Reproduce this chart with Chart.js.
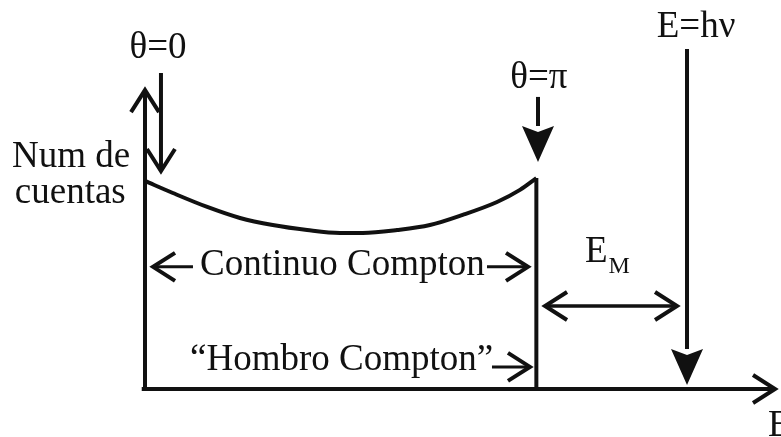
<!DOCTYPE html>
<html>
<head>
<meta charset="utf-8">
<script src="https://cdn.jsdelivr.net/npm/chart.js@4.4.0/dist/chart.umd.min.js"></script>
<style>
  body { margin: 0; background: #fff; }
  #wrap { width: 781px; height: 437px; }
</style>
</head>
<body>
<div id="wrap"><canvas id="comptonChart"></canvas></div>
<script>
// Compton continuum (energy in keV, relative counts)
const continuumEnergy = [0, 34, 76, 116, 156, 198, 238, 266, 308, 348, 388, 430, 458, 478];
const continuumCounts = [100, 94.2, 87.5, 82.2, 78.8, 76.4, 75.0, 75.0, 76.4, 78.8, 83.7, 89.9, 95.7, 101.4];
const comptonEdge = 478;   // keV, theta = pi
const photopeak = 662;     // keV, E = h nu

const INK = '#111';
const FONT = '"Liberation Serif", "Times New Roman", serif';

// Arrows in data coordinates: [x1, y1] -> [x2, y2]
const arrows = [
    { from: [0, -1], to: [0, 143.7], head: 'open' },                  // counts axis
    { from: [-4, 0], to: [769.5, 0], head: 'open' },                  // energy axis
    { from: [19.5, 151.9], to: [19.5, 104.8], head: 'open' },         // theta = 0
    { from: [480, 140.4], to: [480, 109.1], head: 'filled' },         // theta = pi
    { from: [photopeak, 163.5], to: [photopeak, 1.9], head: 'filled' },
    { from: [58.6, 58.7], to: [9.8, 58.7], head: 'open', width: 3 },
    { from: [417.7, 58.7], to: [467.8, 58.7], head: 'open', width: 3 },
    { from: [423.8, 10.6], to: [470.2, 10.6], head: 'open', width: 3 },
    { from: [488.6, 39.9], to: [649.8, 39.9], head: 'open', both: true, width: 3 }
];

// Text labels: anchor in data coordinates, left / centre aligned on the baseline
const labels = [
    { text: 'θ=0', at: [15.9, 159.1], align: 'center' },
    { text: 'θ=π', at: [481, 144.7], align: 'center' },
    { text: 'E=hν', at: [673, 169.2], align: 'center' },
    { text: 'Num de', at: [-162.4, 106.7], align: 'left' },
    { text: 'cuentas', at: [-159, 89.4], align: 'left' },
    { text: 'Continuo Compton', at: [67.2, 54.8], align: 'left' },
    { text: '“Hombro Compton”', at: [55, 9.1], align: 'left' },
    { text: 'E', at: [537.4, 61.1], align: 'left' },
    { text: 'M', at: [566, 55.8], align: 'left', size: 24 },
    { text: 'E', at: [761, -22.6], align: 'left' }
];

function drawArrow(ctx, x1, y1, x2, y2, head, width) {
    const ang = Math.atan2(y2 - y1, x2 - x1);
    const len = head === 'filled' ? 36 : 22;
    const half = head === 'filled' ? 16 : 14;
    const endX = head === 'filled' ? x2 - Math.cos(ang) * len : x2;
    const endY = head === 'filled' ? y2 - Math.sin(ang) * len : y2;

    ctx.lineWidth = width;
    ctx.beginPath();
    ctx.moveTo(x1, y1);
    ctx.lineTo(endX, endY);
    ctx.stroke();

    const bx = x2 - Math.cos(ang) * len;
    const by = y2 - Math.sin(ang) * len;
    const nx = -Math.sin(ang) * half;
    const ny = Math.cos(ang) * half;

    ctx.beginPath();
    if (head === 'filled') {
        ctx.moveTo(x2, y2);
        ctx.lineTo(bx + nx, by + ny);
        ctx.lineTo(bx + Math.cos(ang) * 6, by + Math.sin(ang) * 6);
        ctx.lineTo(bx - nx, by - ny);
        ctx.closePath();
        ctx.fill();
    } else {
        ctx.lineWidth = 4;
        ctx.moveTo(bx + nx, by + ny);
        ctx.lineTo(x2, y2);
        ctx.lineTo(bx - nx, by - ny);
        ctx.stroke();
    }
}

const sketchPlugin = {
    id: 'sketch',
    afterDatasetsDraw(chart) {
        const { ctx, scales: { x, y } } = chart;
        ctx.save();
        ctx.strokeStyle = INK;
        ctx.fillStyle = INK;
        ctx.lineCap = 'butt';
        ctx.lineJoin = 'miter';

        arrows.forEach(a => {
            const x1 = x.getPixelForValue(a.from[0]), y1 = y.getPixelForValue(a.from[1]);
            const x2 = x.getPixelForValue(a.to[0]), y2 = y.getPixelForValue(a.to[1]);
            const w = a.width || 4;
            drawArrow(ctx, x1, y1, x2, y2, a.head, w);
            if (a.both) drawArrow(ctx, x2, y2, x1, y1, a.head, w);
        });

        ctx.textBaseline = 'alphabetic';
        labels.forEach(l => {
            ctx.font = (l.size || 37) + 'px ' + FONT;
            ctx.textAlign = l.align;
            ctx.fillText(l.text, x.getPixelForValue(l.at[0]), y.getPixelForValue(l.at[1]));
        });
        ctx.restore();
    }
};

const curvePoints = continuumEnergy.map((e, i) => ({ x: e, y: continuumCounts[i] }));
const edgeTop = continuumCounts[continuumCounts.length - 1];

new Chart(document.getElementById('comptonChart'), {
    type: 'scatter',
    data: {
        datasets: [
            {
                data: curvePoints,
                showLine: true,
                borderColor: INK,
                borderWidth: 4,
                pointRadius: 0,
                cubicInterpolationMode: 'monotone'
            },
            {
                // Compton edge: sharp drop to zero
                data: [{ x: comptonEdge, y: edgeTop }, { x: comptonEdge, y: -0.5 }],
                showLine: true,
                borderColor: INK,
                borderWidth: 4,
                pointRadius: 0
            }
        ]
    },
    options: {
        responsive: true,
        maintainAspectRatio: false,
        animation: false,
        events: [],
        layout: { padding: 0 },
        scales: {
            x: { type: 'linear', min: -177.1, max: 776.8, display: false },
            y: { type: 'linear', min: -23.1, max: 187.0, display: false }
        },
        plugins: {
            legend: { display: false },
            tooltip: { enabled: false }
        }
    },
    plugins: [sketchPlugin]
});
</script>
</body>
</html>
